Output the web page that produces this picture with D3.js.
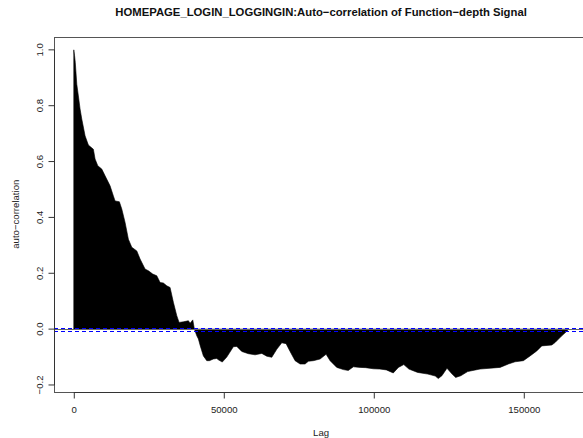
<!DOCTYPE html>
<html>
<head>
<meta charset="utf-8">
<script src="https://cdn.jsdelivr.net/npm/d3@7"></script>
<style>
  html, body { margin: 0; padding: 0; background: #fff; }
  svg { display: block; }
  text { font-family: "Liberation Sans", Arial, Helvetica, sans-serif; }
</style>
</head>
<body>
<div id="chart"></div>
<script>
const titleText = "HOMEPAGE_LOGIN_LOGGINGIN:Auto\u2212correlation of Function\u2212depth Signal";
const xLabel = "Lag";
const yLabel = "auto\u2212correlation";
const xTicks = [0, 50000, 100000, 150000];
const yTicks = [-0.2, 0, 0.2, 0.4, 0.6, 0.8, 1.0];
const confLimit = 0.005;

const lags = [
  0, 250, 500, 1000, 1533, 2100, 2667, 3767, 4867, 6533, 7100, 8000, 9333, 10433,
  12100, 13200, 13767, 15200, 16000, 17100, 18200, 19333, 21000, 22100, 23767, 24867,
  26333, 27667, 28767, 29867, 31000, 32100, 33200, 34333, 35100, 36533, 38200, 38767,
  39667, 40200, 41000, 41533, 42167, 43200, 44333, 45200, 46533, 47667, 48200, 49500,
  51000, 53200, 54333, 56000, 58200, 60433, 62667, 64333, 66000, 67667, 69333, 70767,
  72100, 73767, 75433, 77100, 78200, 79867, 82100, 84100, 85433, 87667, 89867, 91500,
  93200, 95433, 97300, 99867, 102000, 104200, 106500, 108200, 110000, 111700, 114600,
  118000, 120500, 121500, 122700, 124400, 126100, 127300, 129000, 131300, 133500,
  135433, 138767, 142100, 144867, 147100, 149867, 152100, 154333, 156000, 159333,
  160433, 162667, 164533, 164867
];
const acfValues = [
  1.0, 0.98, 0.955, 0.877, 0.835, 0.788, 0.752, 0.692, 0.659, 0.644, 0.609, 0.585, 0.573, 0.549,
  0.513, 0.477, 0.459, 0.456, 0.430, 0.382, 0.322, 0.293, 0.280, 0.251, 0.215, 0.209,
  0.197, 0.191, 0.167, 0.165, 0.155, 0.149, 0.096, 0.048, 0.024, 0.026, 0.030, 0.021,
  0.033, 0.0, -0.024, -0.035, -0.060, -0.096, -0.113, -0.113, -0.107, -0.105, -0.110, -0.118,
  -0.100, -0.063, -0.062, -0.080, -0.088, -0.092, -0.087, -0.097, -0.101, -0.072, -0.049, -0.052,
  -0.080, -0.113, -0.125, -0.125, -0.115, -0.113, -0.107, -0.090, -0.113, -0.137, -0.145, -0.148,
  -0.135, -0.137, -0.138, -0.142, -0.143, -0.146, -0.157, -0.137, -0.127, -0.143, -0.155,
  -0.161, -0.168, -0.177, -0.167, -0.140, -0.161, -0.173, -0.167, -0.152, -0.147,
  -0.143, -0.140, -0.137, -0.125, -0.117, -0.113, -0.096, -0.078, -0.060, -0.057,
  -0.048, -0.024, -0.006, 0.0
];

const W = 583, H = 438;
const plotLeft = 54, plotTop = 36.7, plotBottom = 391.7;
const pxPerLag = 0.003;

const data = lags.map((l, i) => ({ lag: l, v: acfValues[i] }));
const maxLag = d3.max(lags);
const xDom = [-0.04 * maxLag, 1.04 * maxLag];
const x = d3.scaleLinear().domain(xDom).range([plotLeft, plotLeft + (xDom[1] - xDom[0]) * pxPerLag]);
const yMin = d3.min(acfValues), yMax = d3.max(acfValues);
const yr = yMax - yMin;
const y = d3.scaleLinear().domain([yMin - 0.04 * yr, yMax + 0.04 * yr]).range([plotBottom, plotTop]);
const plotRight = x.range()[1];

const svg = d3.select("#chart").append("svg").attr("width", W).attr("height", H);

svg.append("defs").append("clipPath").attr("id", "clip")
  .append("rect").attr("x", plotLeft).attr("y", plotTop)
  .attr("width", plotRight - plotLeft).attr("height", plotBottom - plotTop);

const g = svg.append("g").attr("clip-path", "url(#clip)");

// acf "h" bars drawn as filled area from 0
g.append("path").datum(data)
  .attr("d", d3.area().x(d => x(d.lag)).y0(y(0)).y1(d => y(d.v)))
  .attr("fill", "#000").attr("stroke", "#000").attr("stroke-width", 0.6);

// zero line
const y0px = Math.floor(y(0)) + 0.5;
g.append("line").attr("x1", plotLeft).attr("x2", plotRight)
  .attr("y1", y0px).attr("y2", y0px)
  .attr("stroke", "#666").attr("stroke-width", 1);

// confidence limits (blue dashed)
[confLimit, -confLimit].forEach(c => {
  const yy = Math.round(y(c)) + 0.5;
  g.append("line").attr("x1", plotLeft).attr("x2", plotRight)
    .attr("y1", yy).attr("y2", yy)
    .attr("stroke", "#0000ff").attr("stroke-width", 1)
    .attr("stroke-dasharray", "4,3");
});

// box
svg.append("rect").attr("x", plotLeft + 0.5).attr("y", Math.round(plotTop) + 0.5)
  .attr("width", plotRight - plotLeft).attr("height", Math.round(plotBottom) - Math.round(plotTop))
  .attr("fill", "none").attr("stroke", "#555").attr("stroke-width", 1);

const axisColor = "#333";
const fs = 9.6;

// x axis
const xb = Math.round(plotBottom) + 0.5;
const xAxisG = svg.append("g").attr("transform", `translate(0,${xb})`)
  .call(d3.axisBottom(x).tickValues(xTicks).tickSize(6).tickSizeOuter(0).tickPadding(8).tickFormat(d3.format("d")));
xAxisG.select(".domain").remove();
xAxisG.selectAll(".tick line").attr("stroke", axisColor);
xAxisG.selectAll(".tick text").attr("fill", "#222").style("font-size", fs + "px")
  .style("font-family", "'Liberation Sans', Arial, sans-serif");
svg.append("line").attr("x1", x(xTicks[0])).attr("x2", x(xTicks[xTicks.length - 1]))
  .attr("y1", xb).attr("y2", xb).attr("stroke", axisColor);

// y axis
const yl = plotLeft + 0.5;
svg.append("line").attr("x1", yl).attr("x2", yl)
  .attr("y1", y(yTicks[0])).attr("y2", y(yTicks[yTicks.length - 1])).attr("stroke", axisColor);
yTicks.forEach(t => {
  svg.append("line").attr("x1", yl - 6).attr("x2", yl).attr("y1", y(t)).attr("y2", y(t)).attr("stroke", axisColor);
  svg.append("text")
    .attr("transform", `translate(39.5,${y(t)}) rotate(-90)`)
    .attr("text-anchor", "middle").attr("dy", "0.36em")
    .attr("fill", "#222").style("font-size", fs + "px")
    .text(t === 0 ? "0.0" : (t < 0 ? "\u2212" + Math.abs(t).toFixed(1) : t.toFixed(1)));
});

// labels
const cx = (plotLeft + plotRight) / 2;
svg.append("text").attr("x", cx).attr("y", 15.5).attr("text-anchor", "middle")
  .style("font-size", "11.3px").style("font-weight", "bold").attr("fill", "#111").text(titleText);
svg.append("text").attr("x", cx).attr("y", 433).attr("dy", "0.36em").attr("text-anchor", "middle")
  .style("font-size", fs + "px").attr("fill", "#222").text(xLabel);
svg.append("text").attr("transform", `translate(16,${(plotTop + plotBottom) / 2}) rotate(-90)`)
  .attr("text-anchor", "middle").attr("dy", "0.36em")
  .style("font-size", fs + "px").attr("fill", "#222").text(yLabel);
</script>
</body>
</html>
